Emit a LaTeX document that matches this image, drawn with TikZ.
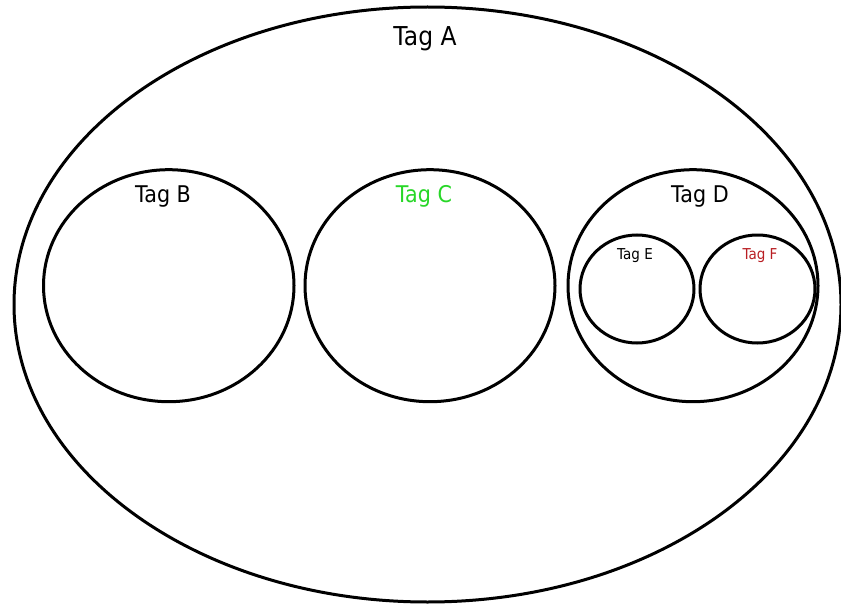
\documentclass[tikz,border=0pt]{standalone}
\usepackage{fontspec}
\setmainfont{DejaVu Sans}[FakeStretch=0.9]
\usetikzlibrary{shapes.geometric}
\definecolor{tagC}{RGB}{40,215,40}
\definecolor{tagF}{RGB}{185,30,35}
\tikzset{
  tagset/.style={draw=black, line width=3pt, ellipse, inner sep=0pt, outer sep=0pt},
  biglabel/.style={anchor=base, inner sep=0pt, font=\fontsize{26}{29}\selectfont},
  midlabel/.style={anchor=base, inner sep=0pt, font=\fontsize{23}{26}\selectfont},
  smalllabel/.style={anchor=base, inner sep=0pt, font=\fontsize{15}{17}\selectfont},
}
\begin{document}
\begin{tikzpicture}[x=1pt, y=-1pt]
  \useasboundingbox (0,0) rectangle (841,607);
  \fill[white] (0,0) rectangle (841,607);
  % outer set and its nested sets
  \node[tagset, minimum width=827pt, minimum height=595pt] (A) at (427.5,304.5) {};
  \node[tagset, minimum width=250.5pt, minimum height=232pt] (B) at (168.75,285.7) {};
  \node[tagset, minimum width=250pt, minimum height=232pt] (C) at (430,285.7) {};
  \node[tagset, minimum width=250pt, minimum height=232pt] (D) at (693,285.7) {};
  \node[tagset, minimum width=114pt, minimum height=108pt] (E) at (637,289) {};
  \node[tagset, minimum width=115pt, minimum height=108pt] (F) at (757.5,289) {};
  % labels
  \node[biglabel] (lA) at (425,46) {Tag A};
  \node[midlabel] (lB) at (163,202) {Tag B};
  \node[midlabel, text=tagC] (lC) at (424,202) {Tag C};
  \node[midlabel] (lD) at (700,202) {Tag D};
  \node[smalllabel] (lE) at (635,259) {Tag E};
  \node[smalllabel, text=tagF] (lF) at (760,259) {Tag F};
\end{tikzpicture}
\end{document}
